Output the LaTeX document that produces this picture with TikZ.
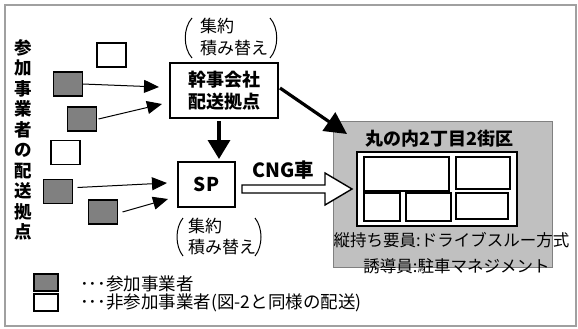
\documentclass[tikz,border=0pt]{standalone}
\usepackage{fontspec}
\setmainfont{Noto Sans CJK JP}
\usetikzlibrary{arrows.meta,calc}
\definecolor{boxgray}{HTML}{808080}
\definecolor{areagray}{HTML}{C0C0C0}
\definecolor{areaborder}{HTML}{808080}
\definecolor{framegray}{HTML}{A0A0A0}
\begin{document}
\begin{tikzpicture}[x=1pt,y=-1pt,
  wbox/.style={draw=black, line width=1.2pt, fill=white, minimum width=29pt, minimum height=24pt, inner sep=0pt, outer sep=0pt},
  gbox/.style={wbox, fill=boxgray},
  lbox/.style={wbox, minimum width=24pt, minimum height=17pt},
  rbox/.style={draw=black, line width=1.3pt, fill=white, inner sep=0pt, outer sep=0pt},
  thin arrow/.style={line width=1pt, -{Triangle[length=15pt,width=13pt]}},
  thick arrow/.style={line width=3.2pt, -{Triangle[length=22pt,width=22pt]}},
  body/.style={font=\fontsize{16.5}{21}\selectfont, inner sep=0pt},
  bodyb/.style={font=\bfseries\fontsize{18}{22}\selectfont, inner sep=0pt},
  paren/.style={line width=1pt}]
\useasboundingbox (0,0) rectangle (578,329);
\draw[framegray, line width=2pt] (5,5) rectangle (576,326);

% vertical label
\node[font=\bfseries\fontsize{17.5}{20.5}\selectfont, align=center, inner sep=0pt] (vt) at (23,140)
  {参\\加\\事\\業\\者\\の\\配\\送\\拠\\点};

% small boxes
\node[wbox] (w1) at (111.5,55) {};
\node[gbox] (g1) at (68,84) {};
\node[gbox] (g2) at (82,119) {};
\node[wbox] (w2) at (65.5,152.5) {};
\node[gbox] (g3) at (58,191.5) {};
\node[gbox] (g4) at (103,212) {};

% hub boxes
\node[rbox, line width=1.2pt, minimum width=108pt, minimum height=55pt, align=center,
  font=\bfseries\fontsize{18}{22}\selectfont] (hq) at (224,90.5) {幹事会社\\配送拠点};
\node[rbox, line width=1.2pt, minimum width=57pt, minimum height=45pt,
  font=\bfseries\fontsize{19}{22}\selectfont] (sp) at (206.5,184.5) {SP};

% parenthesised notes
\node[body, font=\fontsize{17}{22}\selectfont, align=left, anchor=west] (p1) at (200,37) {集約\\積み替え};
\draw[paren] (192,18) .. controls (183,28) and (183,48) .. (192,58);
\draw[paren] (270,18) .. controls (279,28) and (279,48) .. (270,58);
\node[body, font=\fontsize{17}{21}\selectfont, align=left, anchor=west] (p2) at (188,237) {集約\\積み替え};
\draw[paren] (183,218) .. controls (175,228) and (175,246) .. (183,256);
\draw[paren] (255,218) .. controls (263,228) and (263,246) .. (255,256);

% area
\node[draw=areaborder, fill=areagray, line width=1pt, minimum width=219pt, minimum height=146pt,
  inner sep=0pt, outer sep=0pt] (area) at (442.5,194) {};
\node[bodyb] (title) at (439.5,139) {丸の内2丁目2街区};
\node[rbox, line width=2pt, minimum width=160pt, minimum height=74pt] (blk) at (437,189) {};
\node[rbox, minimum width=85pt, minimum height=34pt] (r1) at (406.5,174) {};
\node[rbox, minimum width=54pt, minimum height=32pt] (r2) at (483,173) {};
\node[rbox, minimum width=36pt, minimum height=28pt] (r3) at (382,207) {};
\node[rbox, minimum width=45pt, minimum height=28pt] (r4) at (428.5,207) {};
\node[rbox, minimum width=52pt, minimum height=26pt] (r5) at (482,206) {};
\node[body] (t1) at (451.5,240) {縦持ち要員:ドライブスルー方式};
\node[body] (t2) at (456.5,266) {誘導員:駐車マネジメント};

% arrows
\coordinate (a1) at (159,87);
\coordinate (a2) at (162,104);
\coordinate (a3) at (167,183);
\coordinate (a4) at (168,199);
\draw[thin arrow] (g1.east) -- (a1);
\draw[thin arrow] ($(g2.east)+(2,0)$) -- (a2);
\draw[thin arrow] ($(g3.east)+(5,-4)$) -- (a3);
\draw[thin arrow] ($(g4.east)+(5,0)$) -- (a4);

\coordinate (d0) at (219,121);
\coordinate (d1) at (219,159);
\draw[line width=3.5pt, -{Triangle[length=19pt,width=22pt]}] (d0) -- (d1);

\coordinate (e0) at (280,88);
\coordinate (e1) at (347,134);
\draw[thick arrow] (e0) -- (e1);

% CNG block arrow
\node[bodyb, font=\bfseries\fontsize{19.5}{22}\selectfont] (cng) at (283.5,170) {CNG車};
\coordinate (c0) at (242,189);
\coordinate (c1) at (352,189);
\draw[line width=1.4pt, fill=white, line join=miter]
  ($(c0)+(0,-4)$) -- ($(c1)+(-27,-4)$) -- ($(c1)+(-27,-16)$) -- (c1)
  -- ($(c1)+(-27,16)$) -- ($(c1)+(-27,4)$) -- ($(c0)+(0,4)$) -- cycle;

% legend
\node[lbox, fill=boxgray] (lg) at (46,282.5) {};
\node[lbox] (lw) at (46,302.5) {};
\node[body, font=\fontsize{17.5}{20}\selectfont, anchor=west] (lt1) at (80,284) {･･･参加事業者};
\node[body, font=\fontsize{17.5}{20}\selectfont, anchor=west] (lt2) at (80,303) {･･･非参加事業者(図-2と同様の配送)};
\end{tikzpicture}
\end{document}
